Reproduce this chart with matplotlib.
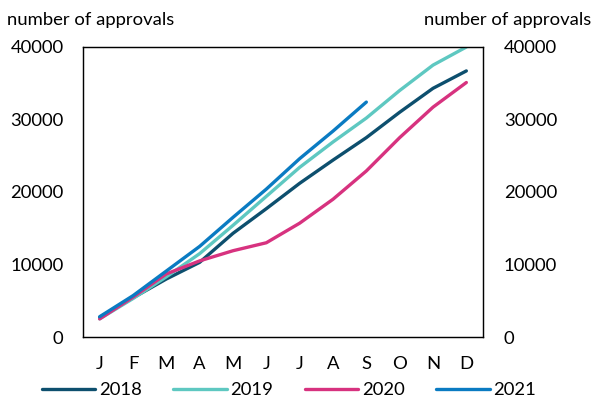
import matplotlib.pyplot as plt
import numpy as np

plt.rcParams['font.family'] = ['Lato', 'DejaVu Sans']

months = ['J', 'F', 'M', 'A', 'M', 'J', 'J', 'A', 'S', 'O', 'N', 'D']
y2018 = [2700, 5400, 8000, 10300, 14300, 17700, 21200, 24400, 27500, 31000, 34300, 36700]
y2019 = [2500, 5300, 8300, 11500, 15400, 19400, 23400, 26900, 30200, 34000, 37500, 40000]
y2020 = [2500, 5500, 8700, 10500, 11900, 13000, 15700, 19000, 22900, 27500, 31700, 35100]
y2021 = [2800, 5700, 9100, 12500, 16500, 20400, 24600, 28400, 32400]
yticks = [0, 10000, 20000, 30000, 40000]

colors = {'2018': '#0d4f6e', '2019': '#5ec8c1', '2020': '#d7327f', '2021': '#0a7bc2'}
fs = 13.3

fig = plt.figure(figsize=(5.93, 4.01), dpi=100)
ax = fig.add_axes([83/593, 1-337/401, 400/593, 290/401])

x = np.arange(len(months))
for lab, vals in [('2018', y2018), ('2019', y2019), ('2020', y2020), ('2021', y2021)]:
    ax.plot(x[:len(vals)], vals, color=colors[lab], lw=2.4, label=lab,
            solid_capstyle='round')

ax.set_xlim(-0.5, 11.5)
ax.set_ylim(0, 40000)
ax.set_xticks(x)
ax.set_xticklabels(months)
ax.set_yticks(yticks)
ax.set_yticklabels([str(v) for v in yticks])
ax.tick_params(axis='both', length=0, labelsize=fs, colors='black')
ax.tick_params(axis='x', pad=14)
ax.tick_params(axis='y', pad=14)
for s in ax.spines.values():
    s.set_linewidth(1.0)
    s.set_color('#222222')

ax2 = ax.twinx()
ax2.set_ylim(0, 40000)
ax2.set_yticks(yticks)
ax2.set_yticklabels([str(v) for v in yticks])
ax2.tick_params(axis='y', length=0, labelsize=fs, pad=15)

fig.text(7/593, 1-20/401, 'number of approvals', fontsize=fs, va='center', ha='left')
fig.text(591/593, 1-20/401, 'number of approvals', fontsize=fs, va='center', ha='right')

fig.legend(loc='center', bbox_to_anchor=(289/593, 1-390/401), ncol=4, frameon=False,
           fontsize=fs, handlelength=2.9, handletextpad=0.2, columnspacing=1.7,
           borderaxespad=0, borderpad=0)

fig.savefig('out.png', dpi=100)
